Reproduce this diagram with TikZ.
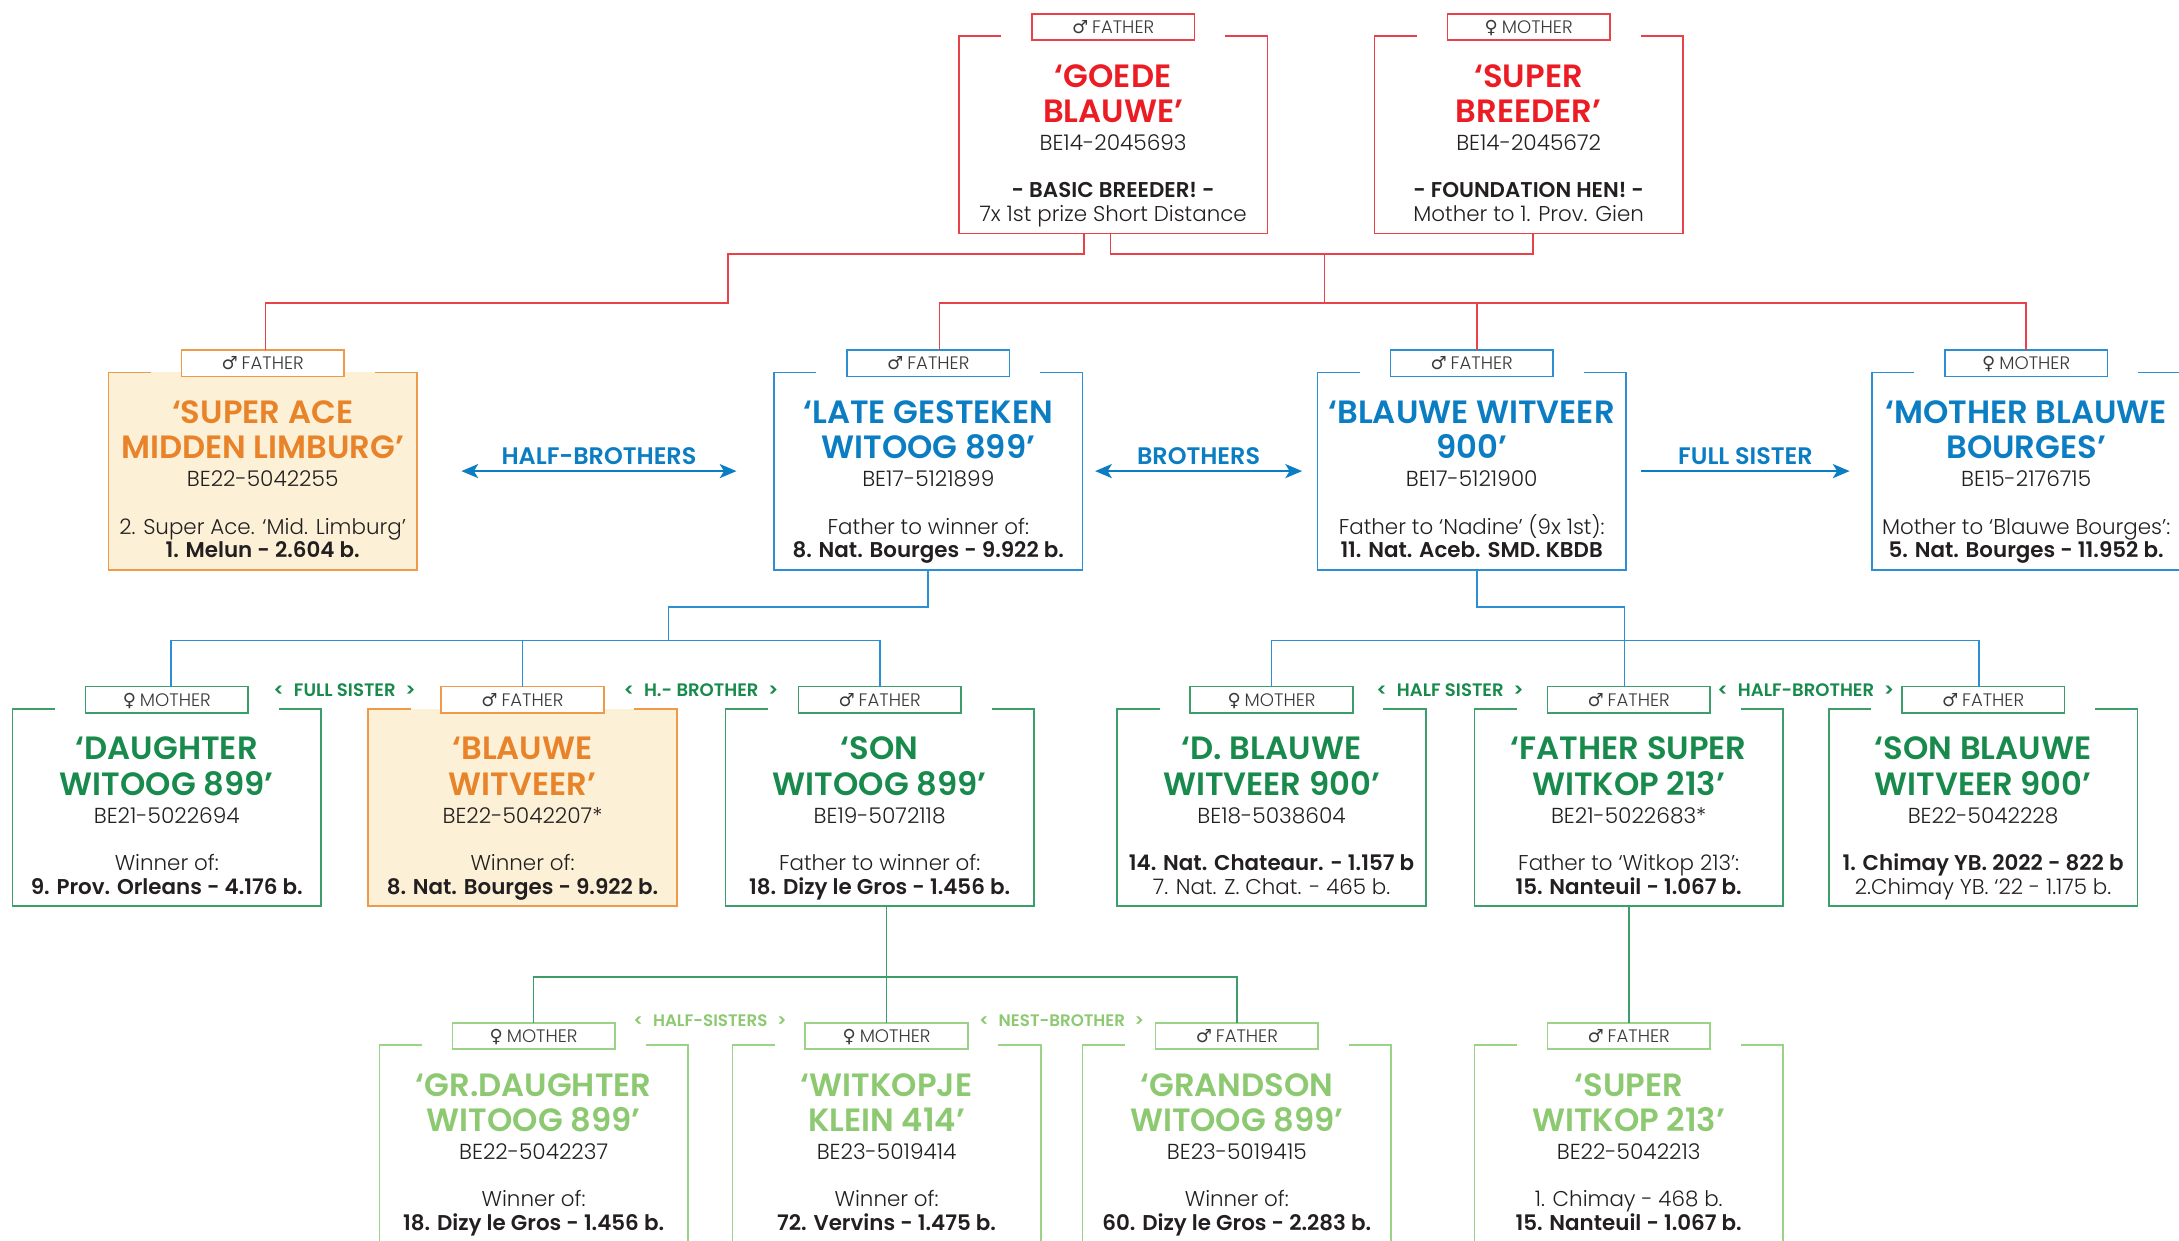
\documentclass[tikz,border=0pt]{standalone}
\usepackage{fontspec}
\setmainfont{Poppins}[UprightFont=* Light, BoldFont=* SemiBold]
\newfontfamily\symf{DejaVu Sans}
\usetikzlibrary{arrows.meta,calc}

\definecolor{redline}{HTML}{E9414A}
\definecolor{redtitle}{HTML}{EC1C24}
\definecolor{redfill}{HTML}{FFFFFF}
\definecolor{orangeline}{HTML}{EE9A48}
\definecolor{orangetitle}{HTML}{E8832A}
\definecolor{orangefill}{HTML}{FCF1D7}
\definecolor{blueline}{HTML}{2C8ED3}
\definecolor{bluetitle}{HTML}{0B7DC3}
\definecolor{bluefill}{HTML}{FFFFFF}
\definecolor{dgreenline}{HTML}{3E9E6B}
\definecolor{dgreentitle}{HTML}{188A4C}
\definecolor{dgreenfill}{HTML}{FFFFFF}
\definecolor{lgreenline}{HTML}{9AD388}
\definecolor{lgreentitle}{HTML}{8CC971}
\definecolor{lgreenfill}{HTML}{FFFFFF}
\definecolor{bodytext}{HTML}{231F20}
\definecolor{tabgray}{HTML}{3A3A3A}

\newcommand\malet{{\symf ♂}\hspace{1.4pt}FATHER}
\newcommand\femt{{\symf ♀}\hspace{1.4pt}MOTHER}

\tikzset{
  cardbox/.style={minimum width=111pt, minimum height=71pt, inner sep=0pt, outer sep=0pt},
  tabbox/.style={draw=#1line, fill=white, line width=0.6pt, minimum width=58.5pt, minimum height=9.5pt,
    inner sep=0pt, outer sep=0pt, font=\fontsize{6.5}{7}\selectfont, text=tabgray, text height=4.6pt, text depth=0pt},
  cardline/.style={draw=#1line, line width=0.6pt},
  titletext/.style={anchor=base, inner sep=0pt, text=#1title, font=\bfseries\fontsize{11.6}{12}\selectfont},
  regtext/.style={anchor=base, inner sep=0pt, text=bodytext, font=\fontsize{7.8}{8}\selectfont},
  desctext/.style={anchor=base, inner sep=0pt, text=bodytext, font=\fontsize{7.7}{8}\selectfont},
  conn/.style={draw=#1line, line width=0.6pt},
  relarrow/.style={draw=bluetitle, line width=1pt},
  rellabel/.style={text=bluetitle, font=\bfseries\fontsize{8.6}{9}\selectfont, inner sep=0pt},
  sibtag/.style={text=#1title, font=\bfseries\fontsize{6.5}{7}\selectfont, inner sep=0pt},
}

\newcommand\carddesc[5]{%
  \node[desctext] (#1-d1) at (#2,#3+116.3) {#4};
  \node[desctext] (#1-d2) at (#2,#3+133.5) {#5};
}
% #1 name #2 centre x #3 top y #4 colour #5 tab #6 title1 #7 title2 #8 reg #9 {d1}{d2}
\newcommand\card[9]{%
  \node[cardbox, fill=#4fill] (#1) at (#2,#3+71) {};
  \node[tabbox=#4] (#1-tab) at (#2,#3-6.5) {#5};
  \draw[cardline=#4] ([xshift=-11pt]#1-tab.west |- #1.north) -- (#1.north west) -- (#1.south west)
     -- (#1.south east) -- (#1.north east) -- ([xshift=11pt]#1-tab.east |- #1.north);
  \node[titletext=#4] (#1-t1) at (#2,#3+36.8) {#6};
  \node[titletext=#4] (#1-t2) at (#2,#3+62.2) {#7};
  \node[regtext] (#1-reg) at (#2,#3+82.4) {#8};
  \carddesc{#1}{#2}{#3}#9
}

\begin{document}
\begin{tikzpicture}[x=0.5pt,y=-0.5pt]
\useasboundingbox (0,0) rectangle (1568,893);
\clip (0,0) rectangle (1568,893);

% row 0
\card{gb}{801}{26}{red}{\malet}{‘GOEDE}{BLAUWE’}{BE14-2045693}{{\bfseries - BASIC BREEDER! -}{7x 1st prize Short Distance}}
\card{sb}{1100}{26}{red}{\femt}{‘SUPER}{BREEDER’}{BE14-2045672}{{\bfseries - FOUNDATION HEN! -}{Mother to 1. Prov. Gien}}

% row 1
\card{sa}{189}{268}{orange}{\malet}{‘SUPER ACE}{MIDDEN LIMBURG’}{BE22-5042255}{{2. Super Ace. ‘Mid. Limburg’}{\bfseries 1. Melun - 2.604 b.}}
\card{lg}{668}{268}{blue}{\malet}{‘LATE GESTEKEN}{WITOOG 899’}{BE17-5121899}{{Father to winner of:}{\bfseries 8. Nat. Bourges - 9.922 b.}}
\card{bw}{1059}{268}{blue}{\malet}{‘BLAUWE WITVEER}{900’}{BE17-5121900}{{Father to ‘Nadine’ (9x 1st):}{\bfseries 11. Nat. Aceb. SMD. KBDB}}
\card{mb}{1458}{268}{blue}{\femt}{‘MOTHER BLAUWE}{BOURGES’}{BE15-2176715}{{Mother to ‘Blauwe Bourges’:}{\bfseries 5. Nat. Bourges - 11.952 b.}}

% row 2
\card{dw}{120}{510}{dgreen}{\femt}{‘DAUGHTER}{WITOOG 899’}{BE21-5022694}{{Winner of:}{\bfseries 9. Prov. Orleans - 4.176 b.}}
\card{bwv}{376}{510}{orange}{\malet}{‘BLAUWE}{WITVEER’}{BE22-5042207*}{{Winner of:}{\bfseries 8. Nat. Bourges - 9.922 b.}}
\card{sw}{633}{510}{dgreen}{\malet}{‘SON}{WITOOG 899’}{BE19-5072118}{{Father to winner of:}{\bfseries 18. Dizy le Gros - 1.456 b.}}
\card{dbw}{915}{510}{dgreen}{\femt}{‘D. BLAUWE}{WITVEER 900’}{BE18-5038604}{{\bfseries 14. Nat. Chateaur. - 1.157 b}{7. Nat. Z. Chat. - 465 b.}}
\card{fsw}{1172}{510}{dgreen}{\malet}{‘FATHER SUPER}{WITKOP 213’}{BE21-5022683*}{{Father to ‘Witkop 213’:}{\bfseries 15. Nanteuil - 1.067 b.}}
\card{sbw}{1427}{510}{dgreen}{\malet}{‘SON BLAUWE}{WITVEER 900’}{BE22-5042228}{{\bfseries 1. Chimay YB. 2022 - 822 b}{2.Chimay YB. ‘22 - 1.175 b.}}

% row 3
\card{gd}{384}{752}{lgreen}{\femt}{‘GR.DAUGHTER}{WITOOG 899’}{BE22-5042237}{{Winner of:}{\bfseries 18. Dizy le Gros - 1.456 b.}}
\card{wk}{638}{752}{lgreen}{\femt}{‘WITKOPJE}{KLEIN 414’}{BE23-5019414}{{Winner of:}{\bfseries 72. Vervins - 1.475 b.}}
\card{gs}{890}{752}{lgreen}{\malet}{‘GRANDSON}{WITOOG 899’}{BE23-5019415}{{Winner of:}{\bfseries 60. Dizy le Gros - 2.283 b.}}
\card{sw2}{1172}{752}{lgreen}{\malet}{‘SUPER}{WITKOP 213’}{BE22-5042213}{{1. Chimay - 468 b.}{\bfseries 15. Nanteuil - 1.067 b.}}

% red connectors
\coordinate (rA) at (524,183);
\coordinate (rB) at (524,218);
\coordinate (rC) at (953,183);
\coordinate (rD) at (953,218);
\draw[conn=red] ([xshift=-10.5pt]gb.south) |- (rA) -- (rB) -| ([xshift=1pt]sa-tab.north);
\draw[conn=red] ([xshift=-1pt]gb.south) |- (rC) -| ([xshift=1.5pt]sb.south);
\draw[conn=red] (rC) -- (rD);
\draw[conn=red] ([xshift=4pt]lg-tab.north) -- ([xshift=4pt]lg-tab.north |- rD) -- (mb-tab.north |- rD) -- (mb-tab.north);
\draw[conn=red] ([xshift=2pt]bw-tab.north) -- ([xshift=2pt]bw-tab.north |- rD);

% blue connectors
\coordinate (bA) at (481,437);
\coordinate (bB) at (481,461);
\coordinate (bC) at (1169,437);
\coordinate (bD) at (1169,461);
\draw[conn=blue] (lg.south) |- (bA) -- (bB);
\draw[conn=blue] ([xshift=1.5pt]dw-tab.north) -- ([xshift=1.5pt]dw-tab.north |- bB) -- (sw-tab.north |- bB) -- (sw-tab.north);
\draw[conn=blue] (bwv-tab.north) -- (bwv-tab.north |- bB);
\draw[conn=blue] ([xshift=2pt]bw.south) |- (bC) -- (bC |- fsw-tab.north);
\draw[conn=blue] (dbw-tab.north) -- (dbw-tab.north |- bD) -- ([xshift=-1.5pt]sbw-tab.north |- bD) -- ([xshift=-1.5pt]sbw-tab.north);

% green connectors
\coordinate (gA) at (637,703);
\draw[conn=dgreen] (sw.south -| wk-tab.north) -- (wk-tab.north);
\draw[conn=dgreen] (gd-tab.north) -- (gd-tab.north |- gA) -- (gs-tab.north |- gA) -- (gs-tab.north);
\draw[conn=dgreen] (fsw.south) -- (sw2-tab.north);

% relation arrows
\draw[relarrow, {Stealth[length=6pt,width=5pt,inset=1.5pt]}-{Stealth[length=6pt,width=5pt,inset=1.5pt]}]
  ([xshift=16pt]sa.east) -- ([xshift=-13.5pt]lg.west) node[rellabel, midway, yshift=5.5pt] (lab1) {HALF-BROTHERS};
\draw[relarrow, {Stealth[length=6pt,width=5pt,inset=1.5pt]}-{Stealth[length=6pt,width=5pt,inset=1.5pt]}]
  ([xshift=4.5pt]lg.east) -- ([xshift=-5.5pt]bw.west) node[rellabel, midway, yshift=5.5pt] (lab2) {BROTHERS};
\draw[relarrow, -{Stealth[length=6pt,width=5pt,inset=1.5pt]}]
  ([xshift=5.5pt]bw.east) -- ([xshift=-8pt]mb.west) node[rellabel, midway, yshift=5.5pt] (lab3) {FULL SISTER};

% sibling tags
\node[sibtag=dgreen] (s1) at ($($(dw-tab.east)!0.5!(bwv-tab.west)$)+(0,-7)$) {<\hspace{3.5pt}FULL SISTER\hspace{3.5pt}>};
\node[sibtag=dgreen] (s2) at ($($(bwv-tab.east)!0.5!(sw-tab.west)$)+(0,-7)$) {<\hspace{3.5pt}H.- BROTHER\hspace{3.5pt}>};
\node[sibtag=dgreen] (s3) at ($($(dbw-tab.east)!0.5!(fsw-tab.west)$)+(0,-7)$) {<\hspace{3.5pt}HALF SISTER\hspace{3.5pt}>};
\node[sibtag=dgreen] (s4) at ($($(fsw-tab.east)!0.5!(sbw-tab.west)$)+(0,-7)$) {<\hspace{3.5pt}HALF-BROTHER\hspace{3.5pt}>};
\node[sibtag=lgreen, font=\bfseries\fontsize{6}{6.5}\selectfont] (s5) at ($($(gd-tab.east)!0.5!(wk-tab.west)$)+(0,-11)$) {<\hspace{3.5pt}HALF-SISTERS\hspace{3.5pt}>};
\node[sibtag=lgreen, font=\bfseries\fontsize{6}{6.5}\selectfont] (s6) at ($($(wk-tab.east)!0.5!(gs-tab.west)$)+(0,-11)$) {<\hspace{3.5pt}NEST-BROTHER\hspace{3.5pt}>};
\end{tikzpicture}
\end{document}
